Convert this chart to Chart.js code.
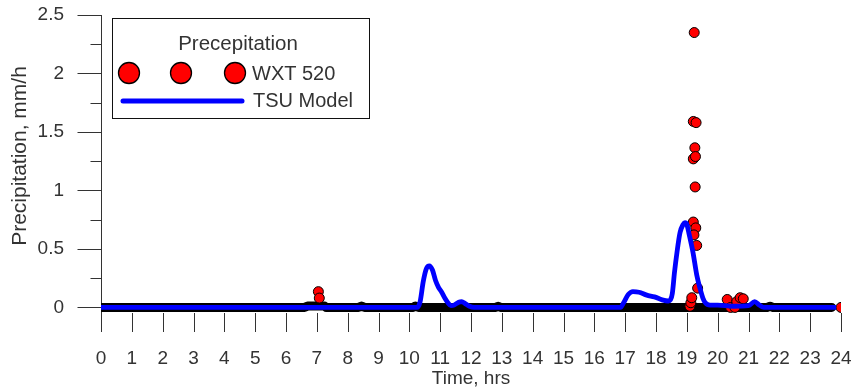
<!DOCTYPE html>
<html>
<head>
<meta charset="utf-8">
<script src="https://cdn.jsdelivr.net/npm/chart.js@4/dist/chart.umd.min.js"></script>
<style>
  html, body { margin: 0; padding: 0; background: #fff; }
  #wrap { width: 851px; height: 390px; }
</style>
</head>
<body>
<div id="wrap"><canvas id="c" width="851" height="390"></canvas></div>
<script>
// Axis ticks
const hours = [0,1,2,3,4,5,6,7,8,9,10,11,12,13,14,15,16,17,18,19,20,21,22,23,24];
const yMajor = [0, 0.5, 1, 1.5, 2, 2.5];
const yMinor = [0.25, 0.75, 1.25, 1.75, 2.25];

// WXT 520 gauge readings (time in hours, precipitation in mm/h)
const wxtTimes = [7.05, 7.08, 19.10, 19.13, 19.16, 19.24, 19.21, 19.30, 19.26, 19.21, 19.28, 19.27,
                  19.21, 19.29, 19.23, 19.32, 19.35, 20.31, 20.42, 20.56, 20.62, 20.73, 20.83, 24];
const wxtRain  = [0.135, 0.08, 0.01, 0.04, 0.083, 2.35, 1.59, 1.58, 1.365, 1.27, 1.29, 1.03,
                  0.73, 0.68, 0.62, 0.53, 0.165, 0.068, 0.0, 0.0, 0.05, 0.083, 0.074, 0];

// Zero-level trace of the gauge record
const traceTimes = [0, 6.6, 6.7, 7.25, 7.3, 8.35, 8.45, 8.55, 10.12, 10.2, 10.3, 12.8, 12.88, 12.96, 21.6, 21.7, 21.8, 23.7];
const traceRain  = [0, 0, 0.012, 0.012, 0, 0, 0.012, 0, 0, 0.012, 0, 0, 0.01, 0, 0, 0.01, 0, 0];

// TSU model output
const modelTimes = [0, 10.25, 10.35, 10.45, 10.55, 10.65, 10.75, 10.85, 10.95, 11.05, 11.15, 11.25, 11.35,
                    11.45, 11.6, 11.7, 11.8, 11.95, 12.1, 16.85, 16.95, 17.1, 17.25, 17.45, 17.7, 17.95,
                    18.2, 18.4, 18.47, 18.53, 18.6, 18.68, 18.78, 18.88, 18.94, 19.0, 19.08, 19.2, 19.32,
                    19.43, 19.52, 19.6, 19.75, 20.0, 20.5, 21.0, 21.2, 21.35, 21.5, 23.84];
const modelRain  = [0, 0, 0.05, 0.22, 0.33, 0.355, 0.32, 0.23, 0.17, 0.13, 0.08, 0.04, 0.015,
                    0.02, 0.045, 0.05, 0.035, 0.01, 0, 0, 0.04, 0.11, 0.135, 0.13, 0.105, 0.09,
                    0.065, 0.055, 0.065, 0.12, 0.3, 0.47, 0.64, 0.71, 0.725, 0.71, 0.62, 0.47, 0.28,
                    0.16, 0.08, 0.04, 0.02, 0.02, 0.01, 0.015, 0.05, 0.02, 0, 0];

const legendTitle = 'Precepitation';
const xTitle = 'Time, hrs';
const yTitle = 'Precipitation, mm/h';

const FONT = '"Liberation Sans", Arial, sans-serif';
const INK = '#333';

const pairs = (xs, ys) => xs.map((t, i) => ({ x: t, y: ys[i] }));

// Axis lines, inward x ticks, major/minor y ticks and axis titles
const axesPlugin = {
  id: 'axesFrame',
  beforeDatasetsDraw(chart) {
    const { ctx, chartArea: a, scales: { x, y } } = chart;
    ctx.save();
    ctx.strokeStyle = INK;
    ctx.lineWidth = 1;
    ctx.beginPath();
    const ax = Math.round(a.left) + 0.5;
    ctx.moveTo(ax, a.top);
    ctx.lineTo(ax, a.bottom);
    yMajor.forEach(v => {
      const py = Math.round(y.getPixelForValue(v)) + 0.5;
      ctx.moveTo(ax - 24, py); ctx.lineTo(ax, py);
    });
    yMinor.forEach(v => {
      const py = Math.round(y.getPixelForValue(v)) + 0.5;
      ctx.moveTo(ax - 11, py); ctx.lineTo(ax, py);
    });
    hours.forEach(h => {
      const px = Math.round(x.getPixelForValue(h)) + 0.5;
      ctx.moveTo(px, a.bottom - 19); ctx.lineTo(px, a.bottom);
    });
    ctx.stroke();

    ctx.fillStyle = INK;
    ctx.textAlign = 'center';
    ctx.textBaseline = 'middle';
    ctx.font = '19px ' + FONT;
    ctx.fillText(xTitle, (a.left + a.right) / 2, 379);
    ctx.font = '21px ' + FONT;
    ctx.translate(20, 156);
    ctx.rotate(-Math.PI / 2);
    ctx.fillText(yTitle, 0, 0);
    ctx.restore();
  }
};

// Boxed legend with a heading, three gauge markers and the model line
const legendPlugin = {
  id: 'boxLegend',
  afterDatasetsDraw(chart) {
    const { ctx } = chart;
    const wxt = chart.data.datasets[1];
    const model = chart.data.datasets[0];
    ctx.save();
    ctx.fillStyle = '#fff';
    ctx.fillRect(112, 18, 257, 100);
    ctx.strokeStyle = '#111';
    ctx.lineWidth = 1;
    ctx.strokeRect(112.5, 18.5, 257, 100);

    ctx.fillStyle = INK;
    ctx.font = '20.5px ' + FONT;
    ctx.textAlign = 'center';
    ctx.textBaseline = 'middle';
    ctx.fillText(legendTitle, 238, 44);

    [129, 181, 235].forEach(cx => {
      ctx.beginPath();
      ctx.arc(cx, 73, 10.5, 0, Math.PI * 2);
      ctx.fillStyle = wxt.backgroundColor;
      ctx.fill();
      ctx.lineWidth = 1.3;
      ctx.strokeStyle = wxt.borderColor;
      ctx.stroke();
    });

    ctx.beginPath();
    ctx.moveTo(123, 101);
    ctx.lineTo(242, 101);
    ctx.lineWidth = 5;
    ctx.lineCap = 'round';
    ctx.strokeStyle = model.borderColor;
    ctx.stroke();

    ctx.fillStyle = INK;
    ctx.font = '20px ' + FONT;
    ctx.textAlign = 'left';
    ctx.fillText(wxt.label, 252, 74);
    ctx.fillText(model.label, 253, 101);
    ctx.restore();
  }
};

new Chart(document.getElementById('c'), {
  type: 'scatter',
  data: {
    datasets: [
      {
        label: 'TSU Model',
        data: pairs(modelTimes, modelRain),
        showLine: true,
        borderColor: '#0000ff',
        borderWidth: 4.8,
        pointRadius: 0,
        cubicInterpolationMode: 'monotone',
        order: 0
      },
      {
        label: 'WXT 520',
        data: pairs(wxtTimes, wxtRain),
        backgroundColor: '#ff0000',
        borderColor: '#000',
        borderWidth: 1,
        pointRadius: 5,
        order: 1
      },
      {
        label: 'trace',
        data: pairs(traceTimes, traceRain),
        showLine: true,
        borderColor: '#000',
        borderWidth: 9,
        borderCapStyle: 'round',
        borderJoinStyle: 'round',
        pointRadius: 0,
        order: 2
      }
    ]
  },
  options: {
    responsive: false,
    animation: false,
    devicePixelRatio: 1,
    layout: { padding: { left: 0, right: 10, top: 15, bottom: 0 } },
    plugins: { legend: { display: false }, tooltip: { enabled: false } },
    scales: {
      x: {
        type: 'linear',
        min: 0,
        max: 24,
        afterBuildTicks: s => { s.ticks = hours.map(v => ({ value: v })); },
        afterFit: s => { s.height = 58; s.paddingLeft = 0; s.paddingRight = 0; },
        ticks: {
          callback: v => String(v),
          font: { family: FONT, size: 19 },
          color: INK,
          padding: 15,
          maxRotation: 0,
          autoSkip: false
        },
        grid: { display: false, drawTicks: false },
        border: { display: false }
      },
      y: {
        type: 'linear',
        min: -0.21,
        max: 2.5,
        afterBuildTicks: s => { s.ticks = yMajor.map(v => ({ value: v })); },
        afterFit: s => { s.width = 101; s.paddingTop = 0; s.paddingBottom = 0; },
        ticks: {
          callback: v => String(v),
          font: { family: FONT, size: 19 },
          color: INK,
          padding: 37
        },
        grid: { display: false, drawTicks: false },
        border: { display: false }
      }
    }
  },
  plugins: [axesPlugin, legendPlugin]
});
</script>
</body>
</html>
